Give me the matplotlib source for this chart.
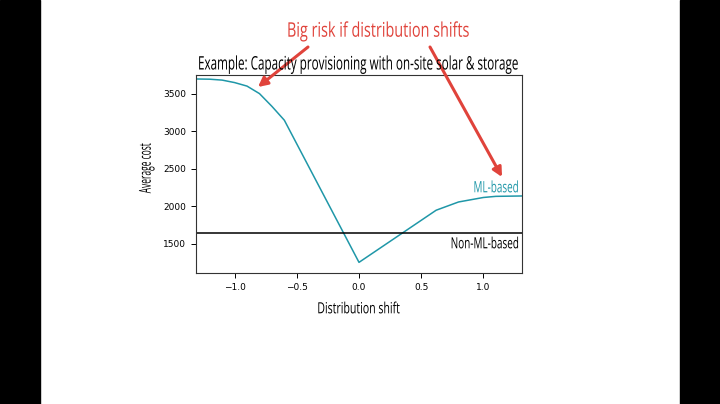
import numpy as np
import matplotlib
matplotlib.use("Agg")
import matplotlib.pyplot as plt
from matplotlib.patches import Rectangle
from matplotlib.patheffects import AbstractPathEffect
from matplotlib.transforms import Affine2D

# data
shift = [-1.31, -1.2, -1.1, -1.0, -0.9, -0.8, -0.7, -0.6, 0.0, 0.62, 0.8, 1.0, 1.1, 1.31]
ml_cost = [3700, 3697, 3685, 3652, 3605, 3505, 3335, 3150, 1255, 1950, 2060, 2120, 2135, 2140]
non_ml_cost = 1648

teal = '#1f97a8'
red = '#e0433b'
W, H = 720, 404
FONT = 'Open Sans'


class Squeeze(AbstractPathEffect):
    # narrow the glyphs along the text direction (no condensed font installed)
    def __init__(self, sx=1.0):
        super().__init__()
        self.sx = sx

    def draw_path(self, renderer, gc, tpath, affine, rgbFace=None):
        renderer.draw_path(gc, tpath, Affine2D().scale(self.sx, 1.0) + affine, rgbFace)


fig = plt.figure(figsize=(7.2, 4.04), dpi=100)
fig.patch.set_facecolor('white')
# black bars at the sides of the slide
fig.add_artist(Rectangle((0, 0), 40 / W, 1, transform=fig.transFigure, color='black', zorder=0))
fig.add_artist(Rectangle((680 / W, 0), 40 / W, 1, transform=fig.transFigure, color='black', zorder=0))

ax = fig.add_axes([196 / W, 1 - 273 / H, 326 / W, 198 / H])
ax.plot(shift, ml_cost, color=teal, lw=1.1)
ax.axhline(non_ml_cost, color='black', lw=1.1)
ax.set_xlim(-1.31, 1.31)
ax.set_ylim(1113, 3753)
ax.set_xticks([-1.0, -0.5, 0.0, 0.5, 1.0])
ax.set_yticks([1500, 2000, 2500, 3000, 3500])
ax.tick_params(labelsize=6.5, length=3.5, width=0.7)
for s in ax.spines.values():
    s.set_linewidth(0.8)
    s.set_color('#333333')

# (text, left px, baseline px, width px, size, colour, rotation)
labels = [
    ('Example: Capacity provisioning with on-site solar & storage', 198, 69.5, 321, 13.4, 'black', 0),
    ('Big risk if distribution shifts', 287, 36.7, 183, 14.5, red, 0),
    ('ML-based', 473.5, 192.3, 45.5, 11.3, teal, 0),
    ('Non-ML-based', 450.7, 248.3, 68.3, 11.1, 'black', 0),
    ('Distribution shift', 317.3, 313.3, 82.7, 11.1, 'black', 0),
    ('Average cost', 150.7, 193.3, 50, 11.8, 'black', 90),
]
texts = []
for s, x, y, w, size, col, rot in labels:
    t = fig.text(x / W, 1 - y / H, s, color=col, family=FONT, fontsize=size,
                 ha='left', va='baseline', rotation=rot, rotation_mode='anchor')
    texts.append((t, w, rot))

fig.canvas.draw()
r = fig.canvas.get_renderer()
for t, w, rot in texts:
    bb = t.get_window_extent(r)
    natural = bb.height if rot else bb.width
    t.set_path_effects([Squeeze(w / natural)])

arrow = dict(arrowstyle='-|>,head_length=0.55,head_width=0.28', color=red, lw=2.2,
             shrinkA=0, shrinkB=0)
ax.annotate('', xy=(258, H - 87), xytext=(308, H - 47),
            xycoords='figure pixels', textcoords='figure pixels', arrowprops=arrow,
            annotation_clip=False)
ax.annotate('', xy=(502, H - 177), xytext=(430, H - 47),
            xycoords='figure pixels', textcoords='figure pixels', arrowprops=arrow,
            annotation_clip=False)

fig.savefig('out.png', dpi=100)
